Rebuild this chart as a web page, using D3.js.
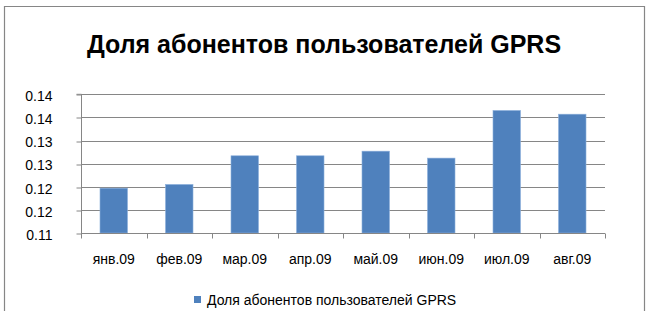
<!DOCTYPE html>
<html><head><meta charset="utf-8">
<script src="https://cdn.jsdelivr.net/npm/d3@7"></script>
<style>body{margin:0;background:#fff}svg{display:block}</style>
</head><body>
<script>
const title = "Доля абонентов пользователей GPRS";
const seriesName = "Доля абонентов пользователей GPRS";
const categories = ["янв.09","фев.09","мар.09","апр.09","май.09","июн.09","июл.09","авг.09"];
const values = [0.1197, 0.1205, 0.1267, 0.1267, 0.1277, 0.1262, 0.1365, 0.1357];
const yTicks = [0.11, 0.115, 0.12, 0.125, 0.13, 0.135, 0.14];

const W = 652, H = 311;
const svg = d3.select("body").append("svg").attr("width", W).attr("height", H);
const font = "'Liberation Sans', Arial, sans-serif";
const grey = "#868686";

// chart border
svg.append("path").attr("d", "M4.5,320 V6.5 H644.5 V320")
  .attr("fill", "none").attr("stroke", grey).attr("stroke-width", 1.2);

svg.append("text").attr("x", 324).attr("y", 53).attr("text-anchor", "middle")
  .attr("font-family", font).attr("font-weight", "bold").attr("font-size", 25)
  .attr("fill", "#000").text(title);

const x = d3.scaleBand().domain(categories).range([81, 605]).paddingInner(0.58).paddingOuter(0.29);
const y = d3.scaleLinear().domain([0.11, 0.14]).range([233, 94.3]);

// gridlines
svg.append("g").selectAll("line").data(yTicks.slice(1)).join("line")
  .attr("x1", 81).attr("x2", 605)
  .attr("y1", d => Math.round(y(d)) + 0.5).attr("y2", d => Math.round(y(d)) + 0.5)
  .attr("stroke", grey).attr("stroke-width", 1);

// bars
svg.append("g").selectAll("rect").data(values).join("rect")
  .attr("x", (d, i) => x(categories[i]))
  .attr("width", x.bandwidth())
  .attr("y", d => y(d))
  .attr("height", d => y(0.11) - y(d))
  .attr("fill", "#4f81bd").attr("stroke", "#8eb0dc").attr("stroke-width", 0.6);

// y axis
const yAxis = d3.axisLeft(y).tickValues(yTicks).tickSize(5).tickPadding(24)
  .tickFormat(d => d3.format(".2f")(d + 1e-9));
const gy = svg.append("g").attr("transform", "translate(81.5,0)").call(yAxis);
gy.select(".domain").attr("stroke", grey).attr("d", "M-5," + y(0.14) + "H0V" + (y(0.11)+0.5));
gy.selectAll(".tick line").attr("stroke", grey).attr("transform", d => "translate(0," + (Math.round(y(d)) + 0.5 - y(d)) + ")");
gy.selectAll(".tick text").attr("font-family", font).attr("font-size", 14).attr("fill", "#000").attr("dy", "0.45em");

// x axis
const step = x.step();
const gx = svg.append("g").attr("transform", "translate(0," + (Math.round(y(0.11)) + 0.5) + ")");
gx.append("line").attr("x1", 81).attr("x2", 605).attr("stroke", grey);
gx.selectAll("line.tk").data(d3.range(categories.length + 1)).join("line").attr("class", "tk")
  .attr("x1", i => Math.round(81 + i * step) + 0.5).attr("x2", i => Math.round(81 + i * step) + 0.5)
  .attr("y1", 0).attr("y2", 5).attr("stroke", grey);
gx.selectAll("text").data(categories).join("text")
  .attr("x", d => x(d) + x.bandwidth() / 2).attr("y", 30)
  .attr("text-anchor", "middle").attr("font-family", font).attr("font-size", 14).attr("fill", "#000")
  .text(d => d);

// legend
svg.append("rect").attr("x", 194).attr("y", 296).attr("width", 7).attr("height", 7).attr("fill", "#4f81bd");
svg.append("text").attr("x", 207).attr("y", 305).attr("font-family", font).attr("font-size", 14)
  .attr("fill", "#000").text(seriesName);
</script>
</body></html>
